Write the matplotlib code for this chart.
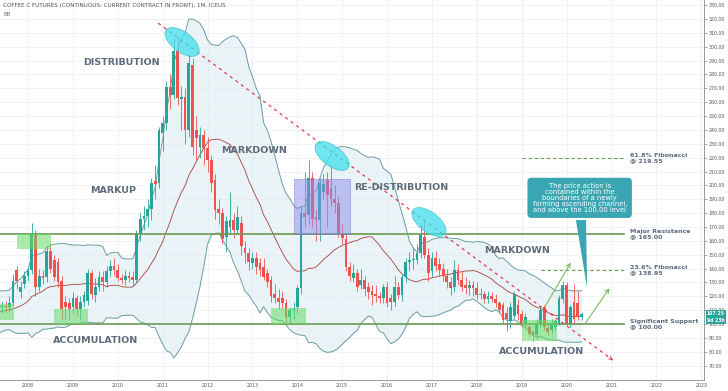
import numpy as np
import pandas as pd
import matplotlib
matplotlib.use("Agg")
import matplotlib.pyplot as plt
from matplotlib.patches import Ellipse, Rectangle, Polygon
from matplotlib.transforms import ScaledTranslation

# monthly bars Jun 2007 .. May 2020, month index 0 = Jan 2008
start_month = -7
opens = [112, 113, 112, 115, 139, 123, 129,
         135, 139, 165, 127, 135, 134, 153, 146, 145, 131, 116, 115,
         112, 119, 111, 116, 117, 137, 121, 127, 134, 130, 138, 142,
         139, 133, 132, 135, 134, 132, 166, 176, 178, 183, 203, 202,
         238, 245, 271, 265, 297, 262, 264, 240, 287, 240, 228, 236,
         227, 218, 204, 183, 180, 163, 170, 175, 168, 173, 155, 151,
         144, 148, 144, 141, 137, 132, 122, 119, 119, 115, 105, 110,
         112, 126, 180, 179, 205, 177, 175, 195, 204, 198, 190, 187,
         166, 161, 141, 133, 137, 128, 132, 127, 124, 122, 120, 119,
         127, 119, 116, 127, 121, 134, 145, 146, 146, 151, 163, 150,
         138, 148, 143, 140, 135, 130, 127, 139, 132, 128, 126, 128,
         126, 121, 122, 118, 120, 118, 115, 114, 108, 102, 106, 114,
         107, 100, 98, 94, 92, 101, 112, 97, 96, 98, 101, 118,
         128, 100, 116, 115, 105]
highs = [116, 117, 120, 136, 142, 131, 138,
         142, 173, 168, 140, 139, 156, 158, 150, 148, 135, 120, 119,
         123, 121, 120, 124, 140, 139, 133, 138, 138, 142, 146, 148,
         143, 136, 139, 138, 138, 168, 180, 185, 190, 205, 215, 242,
         250, 275, 280, 306, 308, 272, 270, 295, 292, 250, 242, 240,
         235, 222, 208, 190, 184, 178, 195, 180, 185, 178, 160, 155,
         152, 152, 148, 148, 140, 135, 129, 125, 124, 118, 112, 116,
         128, 185, 210, 218, 210, 182, 205, 208, 210, 215, 200, 192,
         172, 165, 145, 143, 140, 140, 135, 130, 128, 128, 123, 129,
         130, 122, 135, 130, 136, 148, 152, 155, 158, 172, 176, 155,
         152, 153, 148, 144, 140, 134, 146, 143, 138, 134, 132, 131,
         130, 126, 124, 124, 123, 122, 117, 116, 112, 116, 124, 118,
         110, 108, 101, 96, 104, 112, 114, 100, 104, 104, 121, 131,
         130, 114, 129, 124, 109]
lows = [108, 109, 109, 113, 125, 119, 126,
        131, 136, 120, 124, 129, 130, 137, 131, 127, 103, 104, 103,
        108, 106, 103, 112, 114, 118, 116, 124, 124, 127, 134, 135,
        131, 129, 128, 130, 128, 130, 160, 168, 170, 175, 190, 198,
        225, 240, 255, 262, 258, 240, 230, 235, 222, 218, 220, 215,
        210, 195, 176, 172, 158, 152, 165, 162, 165, 150, 144, 139,
        140, 136, 135, 132, 127, 116, 115, 111, 111, 101, 100, 104,
        108, 122, 170, 172, 170, 160, 160, 190, 170, 185, 180, 163,
        158, 138, 131, 130, 124, 125, 120, 118, 114, 116, 115, 115,
        112, 110, 113, 118, 117, 130, 138, 140, 143, 148, 148, 131,
        134, 138, 135, 131, 126, 121, 123, 128, 124, 122, 121, 120,
        118, 118, 115, 115, 116, 112, 108, 100, 95, 97, 104, 103,
        98, 97, 91, 88, 89, 98, 96, 92, 93, 96, 99, 115,
        99, 98, 100, 103, 103]
closes = [113, 112, 115, 131, 131, 127, 135,
          139, 165, 127, 135, 133, 153, 140, 134, 130, 111, 112, 111,
          119, 111, 116, 121, 137, 122, 127, 134, 130, 138, 142, 139,
          133, 132, 135, 133, 132, 166, 176, 178, 183, 202, 201, 240,
          245, 271, 265, 297, 263, 264, 240, 288, 228, 234, 236, 227,
          218, 202, 182, 180, 161, 174, 175, 168, 177, 156, 151, 145,
          148, 141, 139, 134, 130, 120, 119, 116, 115, 105, 110, 111,
          126, 180, 177, 205, 176, 175, 202, 201, 193, 190, 187, 166,
          162, 141, 135, 137, 127, 132, 125, 123, 121, 120, 119, 127,
          115, 116, 127, 121, 134, 145, 146, 147, 151, 164, 150, 137,
          148, 142, 139, 135, 130, 126, 139, 132, 127, 126, 128, 126,
          121, 122, 118, 120, 118, 115, 110, 103, 104, 112, 122, 107,
          101, 105, 93, 92, 101, 110, 98, 94, 100, 102, 119, 128,
          100, 112, 104, 105, 107.25]

# closes before the first drawn bar (Oct 2005 .. May 2007), only used to seed the bands
seed_closes = [98, 100, 107, 118, 110, 105, 105, 100, 97, 100, 110, 106, 111,
               120, 126, 118, 115, 110, 104, 110]

years = list(range(2008, 2024))
price_ticks = list(range(70, 331, 10))

phase_labels = ["DISTRIBUTION", "MARKUP", "MARKDOWN", "RE-DISTRIBUTION",
                "MARKDOWN", "ACCUMULATION", "ACCUMULATION"]
phase_pos = [(24.9, 288.4), (22.7, 196.6), (60.4, 225.0), (99.9, 198.6),
             (130.7, 152.7), (18.1, 88.0), (137.3, 80.3)]

levels = [165.0, 100.0]
level_names = ["Major Resistance\n@ 165.00", "Significant Support\n@ 100.00"]
fib_levels = [219.55, 138.95]
fib_start = [132.1, 137.2]
fib_names = ["61.8% Fibonacci\n@ 219.55", "23.6% Fibonacci\n@ 138.95"]
line_end = 159.4

trend_x = [34.8, 156.4]
trend_y = [317.0, 74.0]

ellipse_pos = [(41.2, 303.4), (81.3, 221.2), (107.2, 173.6)]
green_boxes = [(-7.5, 103.0, 3.75, 11.5), (-2.9, 154.1, 9.0, 10.9),
               (7.0, 100.0, 9.0, 10.9), (65.0, 100.0, 9.3, 11.6),
               (132.0, 87.8, 9.4, 15.2)]
blue_box = (71.1, 165.0, 15.0, 39.5)
arrows = [((138.0, 111.6), (145.5, 146.0)), ((148.7, 99.3), (155.9, 127.5))]

callout = ("The price action is\ncontained within the\nboundaries of a newly\n"
           "forming ascending channel,\nand above the 100.00 level")

green = "#26a69a"
red = "#ef5350"
label_col = "#5d6b7a"

o = np.array(opens, float)
h = np.array(highs, float)
l = np.array(lows, float)
c = np.array(closes, float)
m = np.arange(start_month, start_month + len(c))

allc = pd.Series(seed_closes + closes, dtype=float)
mid = allc.rolling(20).mean()
sd = allc.rolling(20).std(ddof=0)
k = len(seed_closes) - 1
bx = np.arange(start_month - 1, start_month + len(c))
b_mid = mid.to_numpy()[k:]
b_up = (mid + 2 * sd).to_numpy()[k:]
b_lo = (mid - 2 * sd).to_numpy()[k:]

fig = plt.figure(figsize=(7.28, 3.91), dpi=100)
ax = fig.add_axes([0, 11 / 391, 704 / 728, 380 / 391])
ax.set_xlim(-7.49, 180.75)
ax.set_ylim(59.69, 333.66)

ax.set_xticks([(y - 2008) * 12 for y in years])
ax.set_xticklabels([str(y) for y in years])
ax.set_yticks(price_ticks)
ax.set_yticklabels(["%.2f" % p for p in price_ticks])
ax.yaxis.tick_right()
ax.grid(color="#eef1f5", lw=0.6, zorder=0)
ax.set_axisbelow(True)
ax.tick_params(axis="x", length=0, pad=2, labelsize=3.4, labelcolor="#555555")
ax.tick_params(axis="y", length=2, width=0.5, color="#888888", pad=1.5,
               labelsize=3.4, labelcolor="#555555")
for s in ["top", "left"]:
    ax.spines[s].set_visible(False)
for s in ["right", "bottom"]:
    ax.spines[s].set_color("#8a8a8a")
    ax.spines[s].set_linewidth(0.6)

# bollinger bands
ax.fill_between(bx, b_lo, b_up, color="#dcecf0", alpha=0.6, lw=0, zorder=1)
ax.plot(bx, b_up, color="#6a9ea3", lw=0.7, zorder=2)
ax.plot(bx, b_lo, color="#6a9ea3", lw=0.7, zorder=2)
ax.plot(bx, b_mid, color="#a8403d", lw=0.6, zorder=2)

# candles
up = c >= o
cols = np.where(up, green, red)
ax.vlines(m, l, h, colors=cols, lw=0.6, zorder=3)
ax.bar(m, np.maximum(np.abs(c - o), 0.7), bottom=np.minimum(o, c), width=0.74,
       color=cols, zorder=4)

# levels
for lv, nm in zip(levels, level_names):
    ax.plot([-7.49, line_end], [lv, lv], color="#6b9a52", lw=1.2, zorder=5)
    ax.text(161, lv, nm, fontsize=4.5, fontweight="bold", color=label_col,
            va="center", ha="left", linespacing=1.1, zorder=8)
for lv, st, nm in zip(fib_levels, fib_start, fib_names):
    ax.plot([st, line_end], [lv, lv], color="#6b9a52", lw=0.8, ls=(0, (3, 2.5)), zorder=5)
    ax.text(161, lv, nm, fontsize=4.5, fontweight="bold", color=label_col,
            va="center", ha="left", linespacing=1.1, zorder=8)

# trend line with a small head at its end
ax.plot(trend_x, trend_y, color="#e53950", lw=0.9, ls=(0, (2.5, 3)), zorder=6)
ax.annotate("", xy=(trend_x[1], trend_y[1]),
            xytext=(trend_x[1] - 1.0, trend_y[1] + 2.0),
            arrowprops=dict(arrowstyle="->", color="#e53950", lw=0.8,
                            mutation_scale=5), zorder=6)

# highlighted zones
for x0, y0, w, hh in green_boxes:
    ax.add_patch(Rectangle((x0, y0), w, hh, fc="#66dd66", ec="none", alpha=0.55, zorder=5))
x0, y0, w, hh = blue_box
ax.add_patch(Rectangle((x0, y0), w, hh, fc="#8c8cf0", ec="#7070c0", lw=0.6,
                       alpha=0.5, zorder=5))

for mx, py in ellipse_pos:
    tr = fig.dpi_scale_trans + ScaledTranslation(mx, py, ax.transData)
    ax.add_patch(Ellipse((0, 0), 0.40, 0.20, angle=-37, transform=tr,
                         fc="#40e0ec", ec="#2bb8c4", lw=0.5, alpha=0.75, zorder=7))

for (x1, y1), (x2, y2) in arrows:
    ax.annotate("", xy=(x2, y2), xytext=(x1, y1),
                arrowprops=dict(arrowstyle="->", color="#7dbb5e", lw=0.8,
                                mutation_scale=7), zorder=6)

# phase labels
for txt, (px, py) in zip(phase_labels, phase_pos):
    ax.text(px, py, txt, fontsize=6.8, fontweight="bold", color=label_col,
            ha="center", va="center", zorder=8)

# callout
ax.add_patch(Polygon([(146.5, 175.0), (149.2, 175.0), (149.5, 126.0)],
                     closed=True, fc="#3aa6b3", ec="none", zorder=9))
ax.text(147.5, 191.0, callout, fontsize=4.9, color="white", ha="center",
        va="center", linespacing=1.0, zorder=10,
        bbox=dict(boxstyle="round,pad=0.75,rounding_size=0.6", fc="#3aa6b3", ec="none"))

# price tags on the axis
ytr = ax.get_yaxis_transform()
ax.text(1.004, closes[-1] + 0.6, "%.2f" % closes[-1], transform=ytr, fontsize=3.3,
        color="white", fontweight="bold", va="center", ha="left", clip_on=False,
        bbox=dict(boxstyle="square,pad=0.2", fc=green, ec="none"), zorder=10)
ax.text(1.004, closes[-1] - 4.6, "9d 23h", transform=ytr, fontsize=3.3,
        color="white", fontweight="bold", va="center", ha="left", clip_on=False,
        bbox=dict(boxstyle="square,pad=0.2", fc=green, ec="none"), zorder=10)

fig.text(3 / 728, 1 - 6 / 391, "COFFEE C FUTURES (CONTINUOUS: CURRENT CONTRACT IN FRONT), 1M, ICEUS",
         fontsize=4.1, color="#555555", va="center", ha="left")
fig.text(3 / 728, 1 - 14 / 391, "BB", fontsize=4.1, color="#777777", va="center", ha="left")

fig.savefig("out.png", dpi=100)
